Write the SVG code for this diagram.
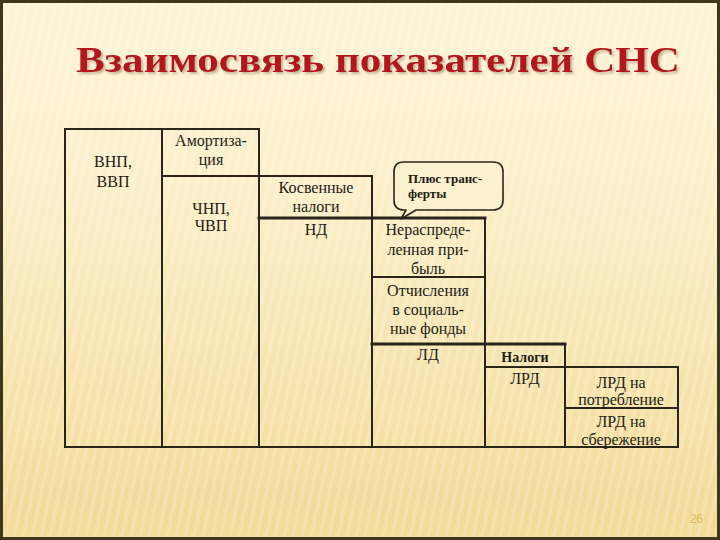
<svg xmlns="http://www.w3.org/2000/svg" width="720" height="540" viewBox="0 0 720 540">
  <defs>
    <linearGradient id="bg" x1="0" y1="0" x2="0" y2="1">
      <stop offset="0" stop-color="#fdf4d8"/>
      <stop offset="0.35" stop-color="#fbefc9"/>
      <stop offset="1" stop-color="#f2da96"/>
    </linearGradient>
    <pattern id="stripes" width="9" height="540" patternUnits="userSpaceOnUse" patternTransform="skewX(-12)">
      <rect x="0" y="0" width="4" height="540" fill="#ffffff" opacity="0.18"/>
    </pattern>
    <filter id="shadow" x="-5%" y="-20%" width="110%" height="150%">
      <feDropShadow dx="2" dy="2" stdDeviation="0.8" flood-color="#9c8c66" flood-opacity="0.6"/>
    </filter>
    <style>
      .ln { stroke: #2b241a; stroke-width: 2; fill: none; stroke-linecap: square; }
      .thick { stroke-width: 3; }
      .t { font-family: "Liberation Serif", "DejaVu Serif", serif; font-size: 16px; fill: #231c14; text-anchor: middle; }
      .b { font-weight: bold; }
      .small { font-size: 14px; }
      .note { font-size: 13px; font-weight: bold; text-anchor: start; }
      .title { font-family: "Liberation Serif", "DejaVu Serif", serif; font-size: 35px; font-weight: bold; fill: #b3121c; }
    </style>
  </defs>

  <rect x="0" y="0" width="720" height="540" fill="url(#bg)"/>
  <rect x="0" y="0" width="720" height="540" fill="url(#stripes)"/>
  <rect x="1.5" y="1.5" width="717" height="537" fill="none" stroke="#3f3620" stroke-width="3"/>

  <g id="title">
    <text class="title" x="76" y="72" textLength="604" lengthAdjust="spacingAndGlyphs" filter="url(#shadow)">Взаимосвязь показателей СНС</text>
  </g>

  <g id="connectors">
    <line class="ln" x1="65" y1="129" x2="259" y2="129"/>
    <line class="ln" x1="65" y1="129" x2="65" y2="447"/>
    <line class="ln" x1="162" y1="129" x2="162" y2="447"/>
    <line class="ln" x1="259" y1="129" x2="259" y2="447"/>
    <line class="ln" x1="162" y1="176" x2="372" y2="176"/>
    <line class="ln" x1="372" y1="176" x2="372" y2="447"/>
    <line class="ln thick" x1="259" y1="218" x2="485" y2="218"/>
    <line class="ln" x1="485" y1="218" x2="485" y2="447"/>
    <line class="ln" x1="372" y1="277" x2="485" y2="277"/>
    <line class="ln thick" x1="372" y1="344" x2="565" y2="344"/>
    <line class="ln" x1="565" y1="344" x2="565" y2="447"/>
    <line class="ln" x1="485" y1="367" x2="678" y2="367"/>
    <line class="ln" x1="678" y1="367" x2="678" y2="447"/>
    <line class="ln" x1="565" y1="408" x2="678" y2="408"/>
    <line class="ln" x1="65" y1="447" x2="678" y2="447"/>
  </g>

  <g id="vnp">
    <text class="t" x="113" y="167">ВНП,</text>
    <text class="t" x="113" y="187">ВВП</text>
  </g>
  <g id="amort">
    <text class="t" x="211" y="146">Амортиза-</text>
    <text class="t" x="211" y="165">ция</text>
  </g>
  <g id="chnp">
    <text class="t" x="211" y="214">ЧНП,</text>
    <text class="t" x="211" y="231">ЧВП</text>
  </g>
  <g id="kosv">
    <text class="t" x="316" y="193">Косвенные</text>
    <text class="t" x="316" y="212">налоги</text>
  </g>
  <g id="nd">
    <text class="t" x="316" y="235">НД</text>
  </g>
  <g id="neraspr">
    <text class="t" x="428" y="235">Нераспреде-</text>
    <text class="t" x="428" y="255">ленная при-</text>
    <text class="t" x="428" y="274">быль</text>
  </g>
  <g id="otchisl">
    <text class="t" x="428" y="296">Отчисления</text>
    <text class="t" x="428" y="315">в социаль-</text>
    <text class="t" x="428" y="334">ные фонды</text>
  </g>
  <g id="ld">
    <text class="t" x="428" y="360">ЛД</text>
  </g>
  <g id="nalogi">
    <text class="t b small" x="525" y="362">Налоги</text>
  </g>
  <g id="lrd">
    <text class="t" x="525" y="384">ЛРД</text>
  </g>
  <g id="lrd-potr">
    <text class="t" x="621" y="388">ЛРД на</text>
    <text class="t" x="621" y="405">потребление</text>
  </g>
  <g id="lrd-sber">
    <text class="t" x="621" y="427">ЛРД на</text>
    <text class="t" x="621" y="445">сбережение</text>
  </g>

  <g id="callout">
    <path d="M404,210 L406,210 L401,219 L416,210 L493,210 Q503,210 503,200 L503,172 Q503,162 493,162 L404,162 Q394,162 394,172 L394,200 Q394,210 404,210 Z" fill="#fcf1cf" stroke="#2b241a" stroke-width="1.6" stroke-linejoin="round"/>
    <text class="t note" x="408" y="183">Плюс транс-</text>
    <text class="t note" x="408" y="198">ферты</text>
  </g>

  <g id="page-number">
    <text x="703" y="523" font-family="Liberation Sans, Arial, sans-serif" font-size="12" fill="#d8b860" text-anchor="end">26</text>
  </g>
</svg>
